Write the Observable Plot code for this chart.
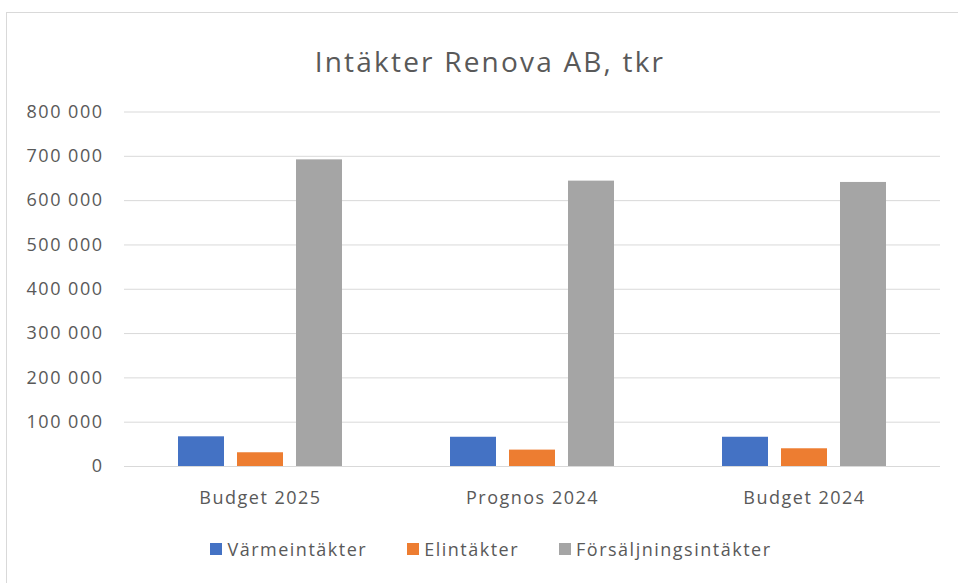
<!DOCTYPE html>
<html>
<head>
<meta charset="utf-8">
<script src="https://cdn.jsdelivr.net/npm/d3@7"></script>
<script src="https://cdn.jsdelivr.net/npm/@observablehq/plot@0.6"></script>
<style>
  html, body { margin: 0; padding: 0; background: #fff; }
  #wrap { position: relative; width: 958px; height: 583px; overflow: hidden; font-family: "Open Sans", sans-serif; color: #595959; }
  #frame { position: absolute; left: 6px; top: 12px; width: 980px; height: 600px; border: 1px solid #d9d9d9; box-sizing: border-box; }
  #title { position: absolute; left: 0; width: 980px; top: 42px; text-align: center; font-size: 28px; letter-spacing: 2.2px; line-height: 38px; }
  #chart { position: absolute; left: 0; top: 80px; }
  #chart svg text { letter-spacing: 1.5px; }
  #legend { position: absolute; top: 536px; left: 0; width: 982px; display: flex; justify-content: center; gap: 40px; font-size: 18px; letter-spacing: 1.5px; line-height: 26px; }
  .item { display: flex; align-items: center; gap: 5px; }
  .sw { width: 12px; height: 12px; display: inline-block; }
</style>
</head>
<body>
<div id="wrap">
  <div id="frame"></div>
  <div id="title"></div>
  <div id="chart"></div>
  <div id="legend"></div>
</div>
<script>
const title = "Intäkter Renova AB, tkr";
const categories = ["Budget 2025", "Prognos 2024", "Budget 2024"];
const seriesNames = ["Värmeintäkter", "Elintäkter", "Försäljningsintäkter"];
const seriesColors = ["#4472C4", "#ED7D31", "#A5A5A5"];
const varmeintakter = [67000, 66000, 66000];
const elintakter = [31000, 37000, 40000];
const forsaljningsintakter = [692000, 644000, 641000];
const yTicks = [0, 100000, 200000, 300000, 400000, 500000, 600000, 700000, 800000];

const seriesValues = [varmeintakter, elintakter, forsaljningsintakter];
const data = [];
categories.forEach((c, i) => {
  seriesNames.forEach((s, j) => data.push({cat: c, series: s, value: seriesValues[j][i]}));
});

const fmt = d3.formatLocale({decimal: ",", thousands: " ", grouping: [3], currency: ["", ""]}).format(",d");

document.getElementById("title").textContent = title;

const plot = Plot.plot({
  width: 958,
  height: 440,
  marginTop: 31.5,
  marginBottom: 54,
  marginLeft: 123,
  marginRight: 18,
  style: {fontFamily: "Open Sans", fontSize: "18px", color: "#595959", background: "transparent"},
  fx: {domain: categories, padding: 0, axis: null},
  x: {domain: seriesNames, paddingInner: 0.217, paddingOuter: 0.883, axis: null},
  y: {domain: [0, 800000], axis: null},
  color: {domain: seriesNames, range: seriesColors},
  marks: [
    Plot.gridY(yTicks, {stroke: "#d9d9d9", strokeOpacity: 1, strokeWidth: 1}),
    Plot.barY(data, {fx: "cat", x: "series", y: "value", fill: "series"}),
    Plot.axisY(yTicks, {tickSize: 0, tickPadding: 21, tickFormat: fmt, label: null}),
    Plot.axisFx({anchor: "bottom", tickSize: 0, tickPadding: 25, label: null})
  ]
});
document.getElementById("chart").appendChild(plot);

const legend = document.getElementById("legend");
seriesNames.forEach((s, i) => {
  const it = document.createElement("div");
  it.className = "item";
  const sw = document.createElement("span");
  sw.className = "sw";
  sw.style.background = seriesColors[i];
  const t = document.createElement("span");
  t.textContent = s;
  it.appendChild(sw); it.appendChild(t);
  legend.appendChild(it);
});
</script>
</body>
</html>
